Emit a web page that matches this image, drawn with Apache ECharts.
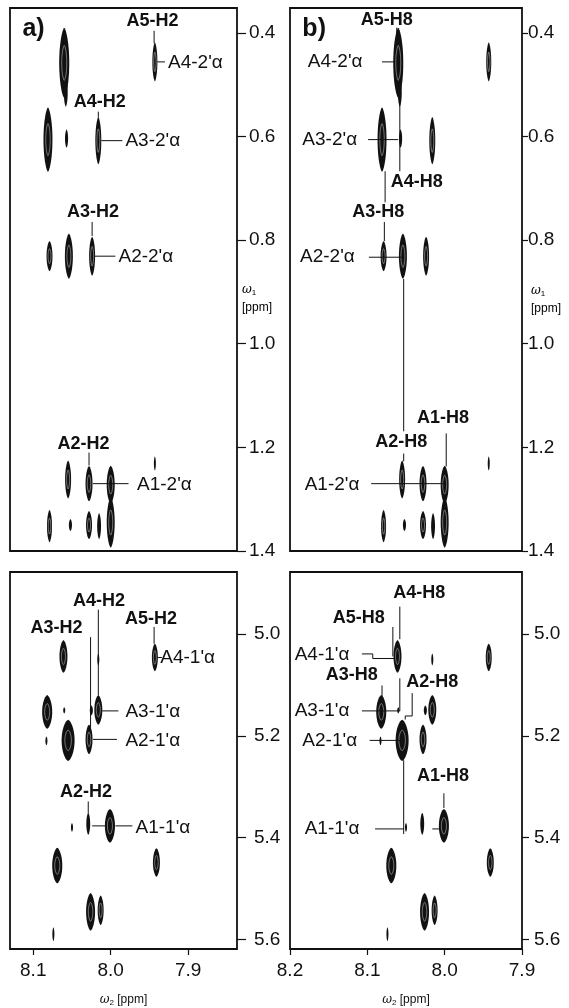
<!DOCTYPE html>
<html>
<head>
<meta charset="utf-8">
<script src="https://cdn.jsdelivr.net/npm/echarts@6/dist/echarts.min.js"></script>
<style>
html, body { margin: 0; padding: 0; background: #fff; }
#chart { width: 569px; height: 1008px; }
</style>
</head>
<body>
<div id="chart"></div>
<script>
// cross peaks, same spectrum in a) and b): [w2 ppm, w1 ppm, width ppm, height ppm]
const peaksUpper = [
    [8.060, 0.458, 0.013, 0.135],
    [8.058, 0.515, 0.005, 0.055],
    [7.943, 0.456, 0.0065, 0.075],
    [8.081, 0.606, 0.0116, 0.124],
    [8.057, 0.604, 0.004, 0.035],
    [8.016, 0.608, 0.0077, 0.091],
    [8.079, 0.831, 0.0077, 0.058],
    [8.054, 0.831, 0.0103, 0.087],
    [8.024, 0.831, 0.0077, 0.075],
    [8.055, 1.262, 0.0077, 0.073],
    [8.028, 1.270, 0.009, 0.068],
    [8.000, 1.272, 0.0103, 0.073],
    [8.000, 1.345, 0.0103, 0.097],
    [7.943, 1.231, 0.0026, 0.027],
    [8.079, 1.352, 0.0065, 0.062],
    [8.052, 1.350, 0.004, 0.023],
    [8.028, 1.350, 0.0077, 0.054],
    [8.015, 1.352, 0.005, 0.050]
];
const peaksLower = [
    [8.061, 5.044, 0.0103, 0.064],
    [7.943, 5.046, 0.0077, 0.054],
    [8.016, 5.050, 0.0026, 0.023],
    [8.082, 5.153, 0.013, 0.066],
    [8.060, 5.150, 0.0026, 0.012],
    [8.016, 5.149, 0.0103, 0.058],
    [8.025, 5.150, 0.004, 0.019],
    [8.055, 5.209, 0.0168, 0.081],
    [8.083, 5.210, 0.0026, 0.017],
    [8.028, 5.207, 0.009, 0.058],
    [8.001, 5.377, 0.013, 0.066],
    [8.029, 5.373, 0.005, 0.043],
    [8.050, 5.380, 0.0026, 0.017],
    [8.069, 5.455, 0.013, 0.070],
    [7.941, 5.449, 0.009, 0.056],
    [8.026, 5.546, 0.0116, 0.074],
    [8.013, 5.543, 0.0077, 0.058],
    [8.074, 5.590, 0.0026, 0.027]
];

const ticksUpper = [0.4, 0.6, 0.8, 1.0, 1.2, 1.4];
const ticksLower = [5.0, 5.2, 5.4, 5.6];
const ticksXa = [8.1, 8.0, 7.9];
const ticksXb = [8.2, 8.1, 8.0, 7.9];

// assignments: [text, w2, w1, kind]  kind 2 = panel letter, 1 = proton, 0 = sugar
const labelsUpperA = [
    ['a)', 8.114, 0.392, 2],
    ['A5-H2', 7.946, 0.377, 1],
    ["A4-2'α", 7.926, 0.458, 0],
    ['A4-H2', 8.014, 0.533, 1],
    ["A3-2'α", 7.981, 0.608, 0],
    ['A3-H2', 8.023, 0.746, 1],
    ["A2-2'α", 7.990, 0.833, 0],
    ['A2-H2', 8.035, 1.194, 1],
    ["A1-2'α", 7.966, 1.273, 0]
];
const leadersUpperA = [
    [[7.944, 0.396], [7.944, 0.42]],
    [[7.940, 0.456], [7.930, 0.456]],
    [[8.016, 0.552], [8.016, 0.563]],
    [[8.012, 0.608], [7.985, 0.608]],
    [[8.024, 0.765], [8.024, 0.792]],
    [[8.021, 0.831], [7.994, 0.831]],
    [[8.028, 1.210], [8.028, 1.235]],
    [[8.023, 1.270], [7.977, 1.270]]
];
const labelsUpperB = [
    ['b)', 8.184, 0.392, 2],
    ['A5-H8', 8.075, 0.375, 1],
    ["A4-2'α", 8.177, 0.456, 0],
    ['A4-H8', 8.036, 0.687, 1],
    ["A3-2'α", 8.184, 0.606, 0],
    ['A3-H8', 8.086, 0.746, 1],
    ["A2-2'α", 8.187, 0.833, 0],
    ['A2-H8', 8.056, 1.190, 1],
    ['A1-H8', 8.002, 1.144, 1],
    ["A1-2'α", 8.181, 1.273, 0]
];
const leadersUpperB = [
    [[8.062, 0.390], [8.062, 0.406]],
    [[8.081, 0.456], [8.064, 0.456]],
    [[8.058, 0.529], [8.058, 0.667]],
    [[8.099, 0.606], [8.060, 0.606]],
    [[8.077, 0.667], [8.077, 0.727]],
    [[8.078, 0.765], [8.078, 0.802]],
    [[8.098, 0.833], [8.054, 0.833]],
    [[8.053, 0.875], [8.053, 1.169]],
    [[8.053, 1.212], [8.053, 1.227]],
    [[7.998, 1.173], [7.998, 1.237]],
    [[8.095, 1.270], [8.001, 1.270]]
];
const labelsLowerA = [
    ['A4-H2', 8.015, 4.936, 1],
    ['A3-H2', 8.070, 4.988, 1],
    ['A5-H2', 7.948, 4.971, 1],
    ["A4-1'α", 7.936, 5.046, 0],
    ["A3-1'α", 7.981, 5.153, 0],
    ["A2-1'α", 7.981, 5.209, 0],
    ['A2-H2', 8.032, 5.311, 1],
    ["A1-1'α", 7.968, 5.381, 0]
];
const leadersLowerA = [
    [[8.016, 4.952], [8.016, 5.120]],
    [[8.026, 5.006], [8.026, 5.184]],
    [[7.944, 4.986], [7.944, 5.019]],
    [[7.940, 5.046], [7.934, 5.046]],
    [[8.011, 5.151], [7.990, 5.151]],
    [[8.023, 5.207], [7.992, 5.207]],
    [[8.029, 5.329], [8.029, 5.352]],
    [[8.024, 5.377], [8.007, 5.377]],
    [[7.994, 5.377], [7.972, 5.377]]
];
const labelsLowerB = [
    ['A4-H8', 8.033, 4.919, 1],
    ['A5-H8', 8.111, 4.969, 1],
    ["A4-1'α", 8.194, 5.041, 0],
    ['A3-H8', 8.120, 5.081, 1],
    ['A2-H8', 8.016, 5.095, 1],
    ["A3-1'α", 8.194, 5.151, 0],
    ["A2-1'α", 8.184, 5.209, 0],
    ['A1-H8', 8.002, 5.280, 1],
    ["A1-1'α", 8.181, 5.383, 0]
];
const leadersLowerB = [
    [[8.058, 4.946], [8.058, 5.010]],
    [[8.067, 4.986], [8.067, 5.044]],
    [[8.107, 5.039], [8.093, 5.039], [8.093, 5.048], [8.064, 5.048]],
    [[8.081, 5.101], [8.081, 5.126]],
    [[8.042, 5.116], [8.042, 5.161], [8.051, 5.161], [8.051, 5.168]],
    [[8.107, 5.151], [8.058, 5.151], [8.058, 5.087]],
    [[8.097, 5.209], [8.058, 5.209]],
    [[8.001, 5.313], [8.001, 5.342]],
    [[8.090, 5.383], [8.053, 5.383]],
    [[8.053, 5.248], [8.053, 5.393]],
    [[8.016, 5.383], [8.006, 5.383]]
];

const FONT = '"Liberation Sans", Arial, sans-serif';
const INK = '#111';

const chart = echarts.init(document.getElementById('chart'));

function renderPeak(params, api) {
    const x = api.value(0), y = api.value(1);
    const c = api.coord([x, y]);
    const s = api.size([api.value(2), api.value(3)], [x, y]);
    const rx = Math.abs(s[0]) / 2, ry = Math.abs(s[1]) / 2;
    const outline = (k) => {
        const pts = [];
        for (let i = 0; i < 48; i++) {
            const a = i / 48 * Math.PI * 2;
            const cs = Math.cos(a);
            pts.push([c[0] + k * rx * Math.sign(cs) * Math.pow(Math.abs(cs), 1.3), c[1] + k * ry * Math.sin(a)]);
        }
        return pts;
    };
    const children = [{ type: 'polygon', shape: { points: outline(1) }, style: { fill: INK } }];
    if (rx > 2.5) {
        children.push({ type: 'polygon', shape: { points: outline(0.5) }, style: { fill: null, stroke: '#fff', lineWidth: 0.7, opacity: 0.6 } });
    }
    return { type: 'group', children: children };
}

function labelRenderer(labels) {
    return function (params, api) {
        const l = labels[params.dataIndex];
        const p = api.coord([api.value(0), api.value(1)]);
        let font = '19px ' + FONT, align = 'left';
        if (l[3] === 1) { font = 'bold 18px ' + FONT; align = 'center'; }
        if (l[3] === 2) { font = 'bold 25px ' + FONT; }
        return {
            type: 'text',
            x: p[0],
            y: p[1],
            style: { text: l[0], fill: INK, font: font, align: align, verticalAlign: 'middle' }
        };
    };
}

function panelSeries(i, peaks, labels, leaders) {
    return [
        {
            type: 'custom', xAxisIndex: i, yAxisIndex: i, silent: true,
            data: peaks, renderItem: renderPeak
        },
        {
            type: 'lines', coordinateSystem: 'cartesian2d', xAxisIndex: i, yAxisIndex: i,
            polyline: true, silent: true,
            data: leaders.map(p => ({ coords: p })),
            lineStyle: { color: INK, width: 1, opacity: 1 }
        },
        {
            type: 'custom', xAxisIndex: i, yAxisIndex: i, silent: true,
            data: labels.map(l => [l[1], l[2]]),
            renderItem: labelRenderer(labels)
        }
    ];
}

const nameRich = {
    w: { fontFamily: 'DejaVu Serif', fontStyle: 'italic', fontSize: 12, color: INK },
    s: { fontSize: 8, color: INK, padding: [6, 0, 0, 0] },
    p: { fontSize: 12, fontFamily: FONT, color: INK }
};

function xAxis(i, min, max, ticks, show) {
    return {
        type: 'value', gridIndex: i, min: min, max: max, inverse: true,
        name: show ? '{w|ω}{s|2}{p| [ppm]}' : '',
        nameLocation: 'middle', nameGap: 44,
        nameTextStyle: { rich: nameRich },
        axisLine: { show: false },
        splitLine: { show: false },
        axisTick: { show: show, length: 6, customValues: ticks, lineStyle: { color: INK, width: 1.2 } },
        axisLabel: {
            show: show, customValues: ticks, margin: 12, color: INK, fontSize: 19, fontFamily: FONT,
            formatter: v => v.toFixed(1)
        }
    };
}

function yAxis(i, min, max, ticks, tickLen, margin) {
    return {
        type: 'value', gridIndex: i, min: min, max: max, inverse: true, position: 'right',
        axisLine: { show: false },
        splitLine: { show: false },
        axisTick: { show: true, length: tickLen, customValues: ticks, lineStyle: { color: INK, width: 1.2 } },
        axisLabel: {
            customValues: ticks, margin: margin, color: INK, fontSize: 19, fontFamily: FONT,
            formatter: v => v.toFixed(1)
        }
    };
}

const box = { show: true, borderColor: INK, borderWidth: 1.8, backgroundColor: 'transparent' };

chart.setOption({
    animation: false,
    grid: [
        Object.assign({ left: 10, top: 8, width: 227, height: 543 }, box),
        Object.assign({ left: 290, top: 8, width: 232, height: 543 }, box),
        Object.assign({ left: 10, top: 572, width: 227, height: 383 }, box),
        Object.assign({ left: 290, top: 572, width: 232, height: 383 }, box)
    ],
    xAxis: [
        xAxis(0, 7.837, 8.13, ticksXa, false),
        xAxis(1, 7.9, 8.2, ticksXb, false),
        xAxis(2, 7.837, 8.13, ticksXa, true),
        xAxis(3, 7.9, 8.2, ticksXb, true)
    ],
    yAxis: [
        yAxis(0, 0.352, 1.4, ticksUpper, 9, 12),
        yAxis(1, 0.352, 1.4, ticksUpper, 6, 6),
        yAxis(2, 4.878, 5.619, ticksLower, 9, 17),
        yAxis(3, 4.878, 5.619, ticksLower, 7, 12)
    ],
    graphic: [
        { type: 'text', left: 242, top: 281, style: { text: '{w|ω}{s|1}\n{p|[ppm]}', rich: nameRich, lineHeight: 18 } },
        { type: 'text', left: 531, top: 282, style: { text: '{w|ω}{s|1}\n{p|[ppm]}', rich: nameRich, lineHeight: 18 } }
    ],
    series: [].concat(
        panelSeries(0, peaksUpper, labelsUpperA, leadersUpperA),
        panelSeries(1, peaksUpper, labelsUpperB, leadersUpperB),
        panelSeries(2, peaksLower, labelsLowerA, leadersLowerA),
        panelSeries(3, peaksLower, labelsLowerB, leadersLowerB)
    )
});
</script>
</body>
</html>
